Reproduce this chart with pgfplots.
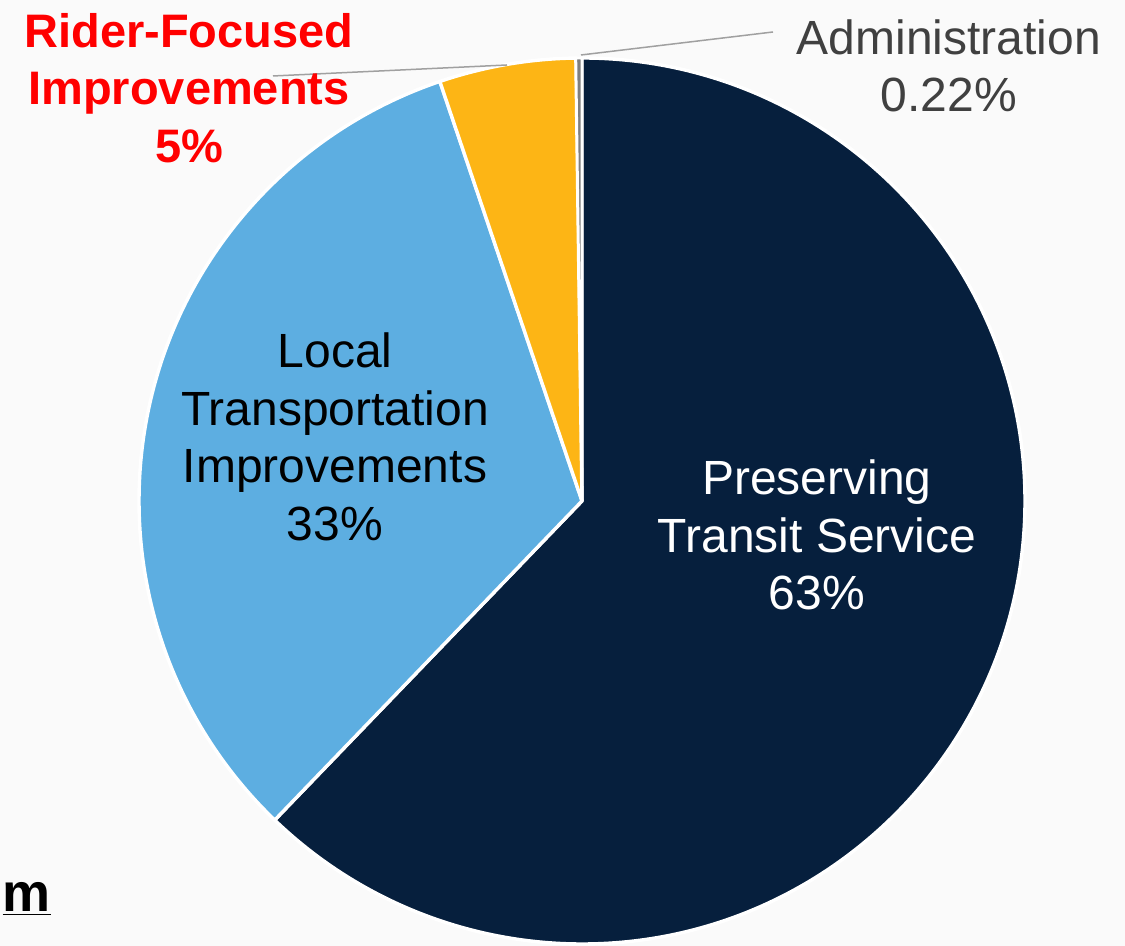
\documentclass[border=0pt]{standalone}
\usepackage{pgfplots}
\pgfplotsset{compat=1.18}
\usepackage{pgfplotstable}
\usepackage{fontspec}
\setmainfont{Liberation Sans}
\definecolor{navy}{HTML}{061F3D}
\definecolor{lblue}{HTML}{5DAEE1}
\definecolor{gold}{HTML}{FDB515}
\definecolor{bg}{HTML}{FAFAFA}
\definecolor{lead}{HTML}{A0A0A0}
\definecolor{admtext}{HTML}{404040}
\definecolor{admfill}{HTML}{7F7F7F}

\pgfplotstableread{
name value
Preserving 62.2
Local 32.6
Rider 4.98
Admin 0.22
}\piedata

\begin{document}
\begin{tikzpicture}
\pgfplotstablegetelem{0}{value}\of\piedata \let\vA\pgfplotsretval
\pgfplotstablegetelem{1}{value}\of\piedata \let\vB\pgfplotsretval
\pgfplotstablegetelem{2}{value}\of\piedata \let\vC\pgfplotsretval
\pgfplotstablegetelem{3}{value}\of\piedata \let\vD\pgfplotsretval
\pgfmathsetmacro{\aA}{90-3.6*\vA}
\pgfmathsetmacro{\aB}{\aA-3.6*\vB}
\pgfmathsetmacro{\aC}{\aB-3.6*\vC}
\pgfmathsetmacro{\aD}{\aC-3.6*\vD}
\begin{axis}[scale only axis, width=562.5pt, height=473pt,
  xmin=0, xmax=1125, ymin=0, ymax=946, hide axis, clip=false]
\fill[bg] (axis cs:0,0) rectangle (axis cs:1125,946);
\coordinate (SW) at (axis cs:0,0);
\coordinate (NE) at (axis cs:1125,946);
\coordinate (C) at (axis cs:582,445);
\fill[navy, draw=white, line width=1.7pt, line join=round] (C) -- ++(90:221.5pt) arc[start angle=90, end angle=\aA, radius=221.5pt] -- cycle;
\fill[lblue, draw=white, line width=1.7pt, line join=round] (C) -- ++(\aA:221.5pt) arc[start angle=\aA, end angle=\aB, radius=221.5pt] -- cycle;
\fill[gold, draw=white, line width=1.7pt, line join=round] (C) -- ++(\aB:221.5pt) arc[start angle=\aB, end angle=\aC, radius=221.5pt] -- cycle;
\fill[admfill, draw=white, line width=1.3pt, line join=round] (C) -- ++(\aC:221.5pt) arc[start angle=\aC, end angle=\aD, radius=221.5pt] -- cycle;
% leader lines
\draw[lead, line width=0.75pt] (axis cs:273,870) -- (axis cs:507,881);
\draw[lead, line width=0.75pt] (axis cs:581,891) -- (axis cs:773,914);
% labels
\node[align=center, font=\fontsize{24}{28.8}\selectfont, text=white] at (axis cs:817,411) {Preserving\\Transit Service\\63\%};
\node[align=center, font=\fontsize{24}{28.8}\selectfont, text=black] at (axis cs:335,509) {Local\\Transportation\\Improvements\\33\%};
\node[align=center, font=\fontsize{24}{28.8}\selectfont, text=admtext] at (axis cs:949,880) {Administration\\0.22\%};
\node[align=center, font=\bfseries\fontsize{23.5}{28.8}\selectfont, text=red] at (axis cs:189,858) {Rider-Focused\\Improvements\\5\%};
\node[anchor=base east, inner sep=0pt, font=\bfseries\fontsize{27}{30}\selectfont, text=black] at (axis cs:51,34) {\underline{m}};
\end{axis}
\pgfresetboundingbox
\path[use as bounding box] (SW) rectangle (NE);
\end{tikzpicture}
\end{document}
